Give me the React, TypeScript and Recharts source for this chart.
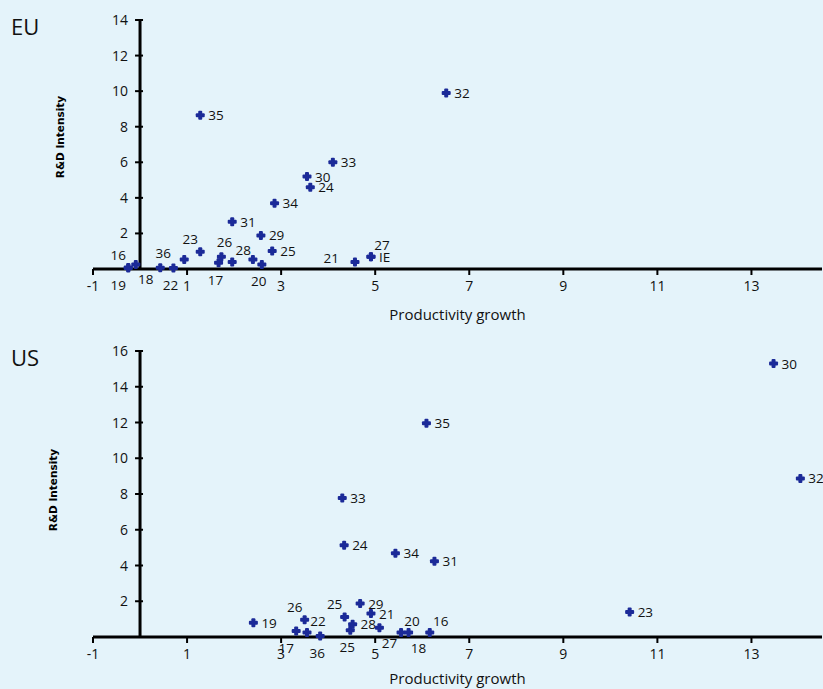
import { ScatterChart, Scatter, XAxis, YAxis, ReferenceLine, ReferenceDot } from "recharts";

const xTicks = [-1, 1, 3, 5, 7, 9, 11, 13];
const euYTicks = [2, 4, 6, 8, 10, 12, 14];
const usYTicks = [2, 4, 6, 8, 10, 12, 14, 16];

// EU: sector codes, productivity growth, R&D intensity
const euNames = ["16", "19", "18", "36", "22", "", "23", "17", "26", "28", "", "20", "29", "31", "34", "25", "21", "27", "IE", "24", "30", "33", "35", "32"];
const euGrowth = [-0.25, -0.25, -0.09, 0.43, 0.71, 0.94, 1.28, 1.67, 1.73, 1.96, 2.4, 2.59, 2.57, 1.96, 2.86, 2.81, 4.57, 4.91, 4.91, 3.62, 3.55, 4.1, 1.28, 6.51];
const euRnd = [0.08, 0.06, 0.26, 0.07, 0.06, 0.54, 0.97, 0.35, 0.69, 0.39, 0.54, 0.26, 1.89, 2.65, 3.7, 1.01, 0.39, 0.69, 0.69, 4.6, 5.2, 6.0, 8.65, 9.9];
const euPlace = ["tl", "bl", "br", "t", "b", "r", "tl", "b", "t", "tr", "r", "b", "r", "r", "r", "r", "l", "tr", "r", "r", "r", "r", "r", "r"];

// US
const usNames = ["19", "26", "17", "22", "36", "25", "25", "28", "29", "21", "27", "20", "18", "16", "33", "24", "34", "31", "35", "23", "30", "32"];
const usGrowth = [2.41, 3.5, 3.32, 3.55, 3.83, 4.35, 4.47, 4.52, 4.68, 4.91, 5.09, 5.55, 5.71, 6.16, 4.3, 4.34, 5.43, 6.26, 6.09, 10.41, 13.47, 14.04];
const usRnd = [0.8, 0.97, 0.34, 0.25, 0.06, 1.12, 0.38, 0.71, 1.87, 1.31, 0.52, 0.25, 0.25, 0.25, 7.77, 5.13, 4.69, 4.24, 11.96, 1.4, 15.3, 8.87];
const usPlace = ["r", "tl", "bl", "tr", "b", "tl", "b", "r", "r", "r", "br", "tr", "br", "tr", "r", "r", "r", "r", "r", "r", "r", "r"];

const BG = "#e4f3fa";
const BLUE = "#1b2a98";
const FONT = "'Open Sans', 'Noto Sans', sans-serif";

const offsets: Record<string, [number, number, string]> = {
  r: [8, 5, "start"],
  l: [-16, 1, "end"],
  tl: [-10, -8, "middle"],
  tr: [11, -7, "middle"],
  t: [3, -10, "middle"],
  b: [-3, 22, "middle"],
  bl: [-10, 22, "middle"],
  br: [10, 20, "middle"],
};

function Marker(props: any) {
  const { cx, cy, payload } = props;
  const [dx, dy, anchor] = offsets[payload.place] || offsets.r;
  return (
    <g>
      <rect x={cx - 4.5} y={cy - 2} width={9} height={4} rx={1} fill={BLUE} />
      <rect x={cx - 2} y={cy - 4.5} width={4} height={9} rx={1} fill={BLUE} />
      {payload.name && (
        <text x={cx + dx} y={cy + dy} textAnchor={anchor} fontSize={13.5} fontFamily={FONT} fill="#111">
          {payload.name}
        </text>
      )}
    </g>
  );
}

function YTick(props: any) {
  const { cx, cy, value } = props;
  return (
    <g>
      <line x1={cx - 5} x2={cx + 3} y1={cy} y2={cy} stroke="#000" strokeWidth={2} />
      <text x={cx - 12} y={cy + 5} textAnchor="end" fontSize={14} fontFamily={FONT} fill="#111">
        {value}
      </text>
    </g>
  );
}

function XTick(props: any) {
  const { x, y, payload } = props;
  return (
    <text x={x} y={y + 14} textAnchor="middle" fontSize={14} fontFamily={FONT} fill="#111">
      {payload.value}
    </text>
  );
}

function Panel({ title, names, growth, rnd, place, yTicks, yMax, top, height, marginTop, labelOffset, yTitleX, yTitleY }: any) {
  const rows = names.map((n: string, i: number) => ({ x: growth[i], y: rnd[i], name: n, place: place[i] }));
  return (
    <div style={{ position: "absolute", left: 0, top, width: 823, height }}>
      <ScatterChart width={823} height={height} margin={{ top: marginTop, right: 1, left: 93, bottom: 0 }}>
        <XAxis
          type="number"
          dataKey="x"
          domain={[-1, 14.5]}
          ticks={xTicks}
          axisLine={{ stroke: "#000", strokeWidth: 3 }}
          tickLine={{ stroke: "#000", strokeWidth: 2 }}
          tickSize={6}
          tick={XTick}
          height={61}
          label={{ value: "Productivity growth", position: "insideBottom", offset: labelOffset, fill: "#111", fontSize: 15, fontFamily: FONT }}
        />
        <YAxis type="number" dataKey="y" domain={[0, yMax]} hide />
        <ReferenceLine x={0} stroke="#000" strokeWidth={3} />
        {yTicks.map((v: number) => (
          <ReferenceDot key={v} x={0} y={v} shape={(p: any) => <YTick {...p} value={v} />} />
        ))}
        <Scatter data={rows} shape={Marker} isAnimationActive={false} />
        <text x={11} y={marginTop + 15} fontSize={22} fontFamily={FONT} fill="#111">{title}</text>
        <text
          transform={`translate(${yTitleX}, ${yTitleY}) rotate(-90)`}
          textAnchor="middle"
          fontSize={10.5}
          fontWeight="bold"
          fontFamily="'DejaVu Sans', sans-serif"
          fill="#000"
        >
          R&amp;D Intensity
        </text>
      </ScatterChart>
    </div>
  );
}

export default function App() {
  return (
    <div style={{ position: "absolute", left: 0, top: 0, width: 823, height: 689, background: BG, overflow: "hidden" }}>
      <Panel title="EU" names={euNames} growth={euGrowth} rnd={euRnd} place={euPlace} yTicks={euYTicks} yMax={14}
        top={0} height={330} marginTop={20} labelOffset={10} yTitleX={64} yTitleY={137} />
      <Panel title="US" names={usNames} growth={usGrowth} rnd={usRnd} place={usPlace} yTicks={usYTicks} yMax={16}
        top={330} height={368} marginTop={21} labelOffset={14} yTitleX={57} yTitleY={160} />
    </div>
  );
}
